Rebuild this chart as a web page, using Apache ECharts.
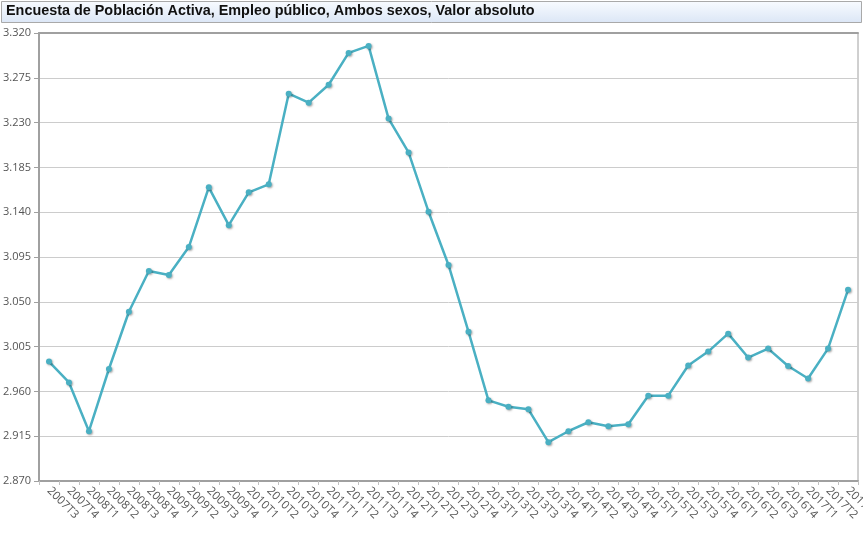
<!DOCTYPE html>
<html>
<head>
<meta charset="utf-8">
<script src="https://cdn.jsdelivr.net/npm/echarts@6/dist/echarts.min.js"></script>
<style>
html,body{margin:0;padding:0;background:#fff;}
#c{width:863px;height:539px;}
</style>
</head>
<body>
<div id="c"></div>
<script>
const titleText = 'Encuesta de Población Activa, Empleo público, Ambos sexos, Valor absoluto';
const categories = [
  '2007T3','2007T4',
  '2008T1','2008T2','2008T3','2008T4',
  '2009T1','2009T2','2009T3','2009T4',
  '2010T1','2010T2','2010T3','2010T4',
  '2011T1','2011T2','2011T3','2011T4',
  '2012T1','2012T2','2012T3','2012T4',
  '2013T1','2013T2','2013T3','2013T4',
  '2014T1','2014T2','2014T3','2014T4',
  '2015T1','2015T2','2015T3','2015T4',
  '2016T1','2016T2','2016T3','2016T4',
  '2017T1','2017T2','2017T3'
];
// miles de personas
const values = [
  2990.0, 2969.0,
  2920.0, 2982.5, 3040.0, 3081.0,
  3077.0, 3105.0, 3165.0, 3127.0,
  3160.0, 3168.0, 3259.0, 3250.0,
  3268.0, 3300.0, 3307.0, 3234.0,
  3200.0, 3140.5, 3087.0, 3020.0,
  2951.0, 2944.6, 2942.0, 2909.0,
  2920.0, 2929.0, 2925.0, 2927.0,
  2955.7, 2955.7, 2986.0, 3000.0,
  3018.0, 2994.0, 3003.0, 2985.5,
  2973.0, 3003.0, 3062.0
];
const yMin = 2870, yMax = 3320, yStep = 45;

function fmt(v){
  const s = String(Math.round(v));
  return s.replace(/\B(?=(\d{3})+(?!\d))/g, '.');
}

const chart = echarts.init(document.getElementById('c'), null, {renderer:'canvas'});
chart.setOption({
  animation:false,
  backgroundColor:'#ffffff',
  graphic:[
    {type:'rect', left:1, top:1, shape:{width:860, height:21},
     style:{fill:new echarts.graphic.LinearGradient(0,0,0,1,[{offset:0,color:'#f8fbff'},{offset:1,color:'#dbe6f6'}]),
            stroke:'#a9a9a9', lineWidth:1}},
    {type:'text', left:6, top:4,
     style:{text:titleText, fill:'#111', font:'bold 14.4px "Liberation Sans", Arial, sans-serif'}}
  ],
  grid:{left:39, right:5, top:33, bottom:58, containLabel:false, outerBoundsMode:'none',
        show:true, borderColor:'#a0a0a0', borderWidth:1, backgroundColor:'transparent'},
  xAxis:[{
    type:'category',
    data:categories,
    boundaryGap:true,
    axisLine:{show:true, lineStyle:{color:'#a0a0a0', width:2}},
    axisTick:{show:true, alignWithLabel:false, length:4, lineStyle:{color:'#c0c0c0'}},
    axisLabel:{interval:0, rotate:-45, color:'#555', fontSize:11.5, fontFamily:'"Open Sans", sans-serif', margin:8},
    splitLine:{show:false}
  },{
    type:'category',
    data:categories,
    position:'top',
    axisLine:{show:true, lineStyle:{color:'#a0a0a0', width:2}},
    axisTick:{show:false},
    axisLabel:{show:false},
    splitLine:{show:false}
  }],
  yAxis:{
    type:'value',
    min:yMin, max:yMax, interval:yStep,
    axisLine:{show:true, lineStyle:{color:'#a0a0a0', width:2}},
    axisTick:{show:true, length:5, lineStyle:{color:'#a0a0a0'}},
    axisLabel:{color:'#555', fontSize:11, fontFamily:'"Open Sans", sans-serif', margin:8, formatter:fmt},
    splitLine:{show:true, lineStyle:{color:'#cccccc', width:1}}
  },
  series:[{
    type:'line',
    data:values,
    symbol:'circle',
    symbolSize:6,
    lineStyle:{color:'#4ab0c3', width:2.5},
    itemStyle:{color:'#4ab0c3', shadowBlur:2, shadowColor:'rgba(0,0,0,0.35)', shadowOffsetX:1, shadowOffsetY:1},
    z:3
  }]
});
</script>
</body>
</html>
